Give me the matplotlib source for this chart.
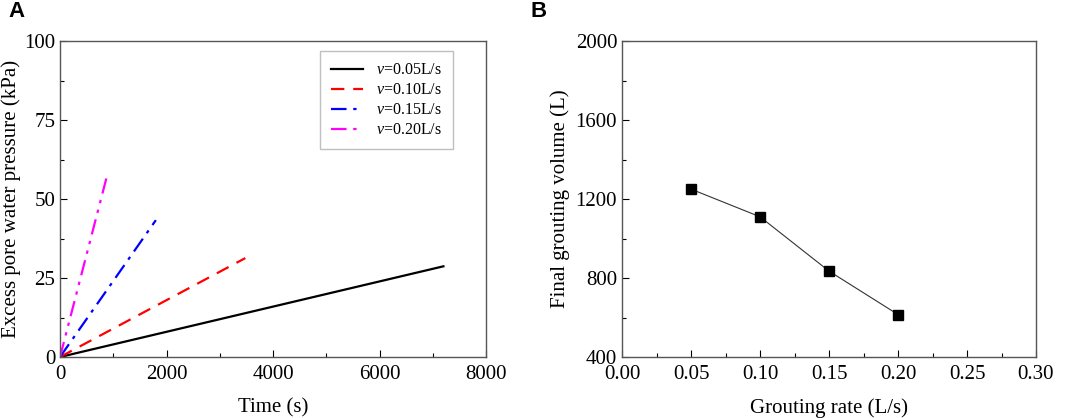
import numpy as np
import matplotlib.pyplot as plt
from matplotlib.ticker import MultipleLocator

# panel A: excess pore water pressure vs time, one line per grouting rate
rate_labels = ["0.05", "0.10", "0.15", "0.20"]
time_005 = [0, 7200]
pwp_005 = [0, 28.7]
time_010 = [0, 3480]
pwp_010 = [0, 31.3]
time_015 = [0, 1800]
pwp_015 = [0, 43.3]
time_020 = [0, 870]
pwp_020 = [0, 56.5]

# panel B: final grouting volume vs grouting rate
grout_rate = [0.05, 0.10, 0.15, 0.20]
grout_volume = [1250, 1110, 835, 615]

plt.rcParams['font.family'] = ['Liberation Serif', 'DejaVu Serif']
plt.rcParams['mathtext.fontset'] = 'custom'
plt.rcParams['mathtext.it'] = 'Liberation Serif:italic'
plt.rcParams['mathtext.rm'] = 'Liberation Serif'

fig = plt.figure(figsize=(10.65, 4.18), dpi=100)
axA = fig.add_axes([60/1065, 1-357/418, (486-60)/1065, (357-41)/418])
axB = fig.add_axes([622/1065, 1-357/418, (1036-622)/1065, (357-41)/418])

styles = [
    dict(color="black", ls="-"),
    dict(color="red", ls=(0, (6, 4))),
    dict(color="blue", ls=(0, (7, 3, 1.5, 3))),
    dict(color="magenta", ls=(0, (7, 3, 1.5, 3, 1.5, 3))),
]
series = [(time_005, pwp_005), (time_010, pwp_010), (time_015, pwp_015), (time_020, pwp_020)]
for (t, p), st, lbl in zip(series, styles, rate_labels):
    axA.plot(t, p, lw=1.6, label=r"$v$=" + lbl + "L/s", **st)

axA.set_xlim(0, 8000)
axA.set_ylim(0, 100)
axA.xaxis.set_major_locator(MultipleLocator(2000))
axA.xaxis.set_minor_locator(MultipleLocator(1000))
axA.yaxis.set_major_locator(MultipleLocator(25))
axA.yaxis.set_minor_locator(MultipleLocator(12.5))
axA.set_xlabel("Time (s)", fontsize=15, labelpad=10)
axA.set_ylabel("Excess pore water pressure (kPa)", fontsize=15, labelpad=2)
leg = axA.legend(loc="upper right", bbox_to_anchor=(0.922, 0.968), fontsize=11.5,
                 fancybox=False, edgecolor="#b0b0b0", handlelength=2.0,
                 labelspacing=0.25, borderpad=0.7, borderaxespad=0)
leg.get_frame().set_linewidth(1.0)

axB.plot(grout_rate, grout_volume, color="#333333", lw=0.8, marker="s",
         markersize=6.5, markerfacecolor="black", markeredgecolor="black")
axB.set_xlim(0, 0.30)
axB.set_ylim(400, 2000)
axB.xaxis.set_major_locator(MultipleLocator(0.05))
axB.xaxis.set_minor_locator(MultipleLocator(0.025))
axB.yaxis.set_major_locator(MultipleLocator(400))
axB.yaxis.set_minor_locator(MultipleLocator(200))
axB.xaxis.set_major_formatter(plt.FormatStrFormatter("%.2f"))
axB.set_xlabel("Grouting rate (L/s)", fontsize=15, labelpad=10)
axB.set_ylabel("Final grouting volume (L)", fontsize=15)

for ax in (axA, axB):
    ax.tick_params(which="major", direction="in", length=5, labelsize=15, width=0.8)
    ax.tick_params(axis="x", which="major", pad=6)
    ax.tick_params(which="minor", direction="in", length=3, width=0.8)
    for sp in ax.spines.values():
        sp.set_color("#555555")
        sp.set_linewidth(1.0)

fig.text(8/1065, 1-1/418, "A", fontsize=16, fontweight="bold", family="Liberation Sans",
         va="top", ha="left")
fig.text(531/1065, 1-1/418, "B", fontsize=16, fontweight="bold", family="Liberation Sans",
         va="top", ha="left")

fig.savefig("out.png", dpi=100)
